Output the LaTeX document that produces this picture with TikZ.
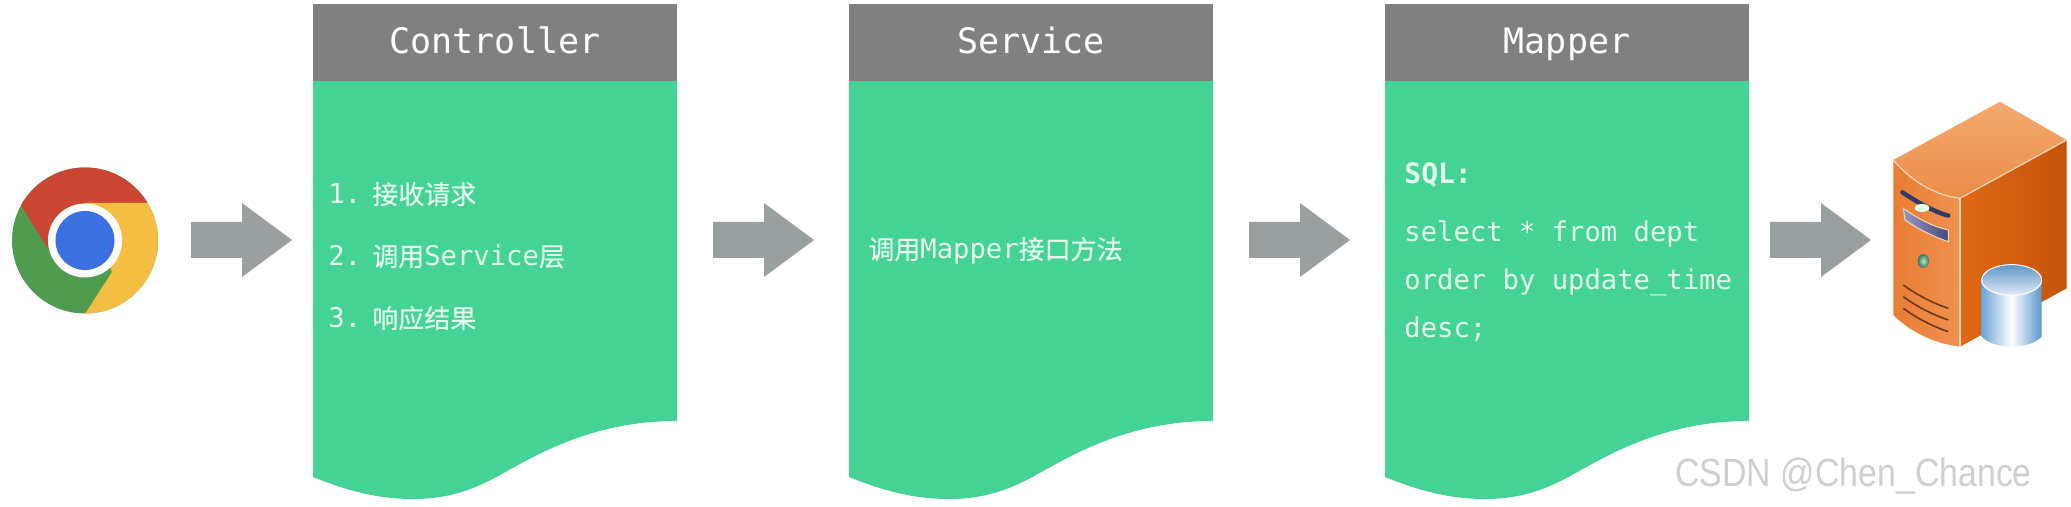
\documentclass[tikz,border=0pt]{standalone}
\usepackage{fontspec}
\setmainfont{DejaVu Sans Mono}
\newfontfamily\cjkf[FakeBold=0.4]{Noto Sans CJK SC}
\newfontfamily\wmf[FakeStretch=0.86]{Liberation Sans}
\definecolor{bodyg}{HTML}{44D395}
\definecolor{headg}{HTML}{808080}
\definecolor{arrowg}{HTML}{9AA09F}
\definecolor{bodytxt}{HTML}{E4FAEF}
\definecolor{chred}{HTML}{CB4632}
\definecolor{chgreen}{HTML}{4F9C50}
\definecolor{chyellow}{HTML}{F3BE42}
\definecolor{chblue}{HTML}{3B70DE}
\definecolor{srvrightA}{RGB}{224,104,22}
\definecolor{srvrightB}{RGB}{196,84,10}
\definecolor{srvtopA}{RGB}{243,170,112}
\definecolor{srvtopB}{RGB}{236,140,72}
\definecolor{srvfrontA}{RGB}{232,125,52}
\definecolor{srvfrontB}{RGB}{240,145,80}
\definecolor{srvedge}{RGB}{250,215,180}
\definecolor{srvslot}{RGB}{45,60,100}
\definecolor{bayA}{RGB}{150,150,190}
\definecolor{bayB}{RGB}{70,75,130}
\definecolor{ledA}{RGB}{190,225,200}
\definecolor{ledB}{RGB}{50,120,90}
\definecolor{vent}{RGB}{110,55,25}
\definecolor{cylA}{RGB}{110,165,215}
\definecolor{cylB}{RGB}{90,150,205}
\definecolor{cyltopA}{RGB}{95,150,200}
\definecolor{cyltopB}{RGB}{225,235,245}
\tikzset{
  x=0.5pt,y=-0.5pt,
  header/.style={fill=headg,draw=none},
  panelbody/.style={fill=bodyg,draw=none},
  blockarrow/.style={fill=arrowg,draw=none},
  title/.style={text=white,font=\fontsize{17.5}{20}\selectfont,anchor=base,inner sep=0},
  line/.style={text=bodytxt,font=\fontsize{13.6}{16}\selectfont,anchor=base west,inner sep=0},
}
\newcommand{\cj}[1]{{\cjkf\fontsize{13}{16}\selectfont #1}}
\newcommand{\num}[1]{#1.\hspace{5.6pt}}
\begin{document}
\begin{tikzpicture}
\useasboundingbox (0,0) rectangle (2071,507);
\fill[white] (0,0) rectangle (2071,507);
% panels
\foreach \px/\nm/\lbl in {313/ctrl/Controller,849/serv/Service,1385/mapp/Mapper}{
  \fill[panelbody] (\px,81) -- (\px+364,81) -- (\px+364,421)
     .. controls (\px+280,421) and (\px+225,454) .. (\px+187,475)
     .. controls (\px+160,490) and (\px+135,499) .. (\px+100,499)
     .. controls (\px+65,499) and (\px+35,491) .. (\px,477) -- cycle;
  \fill[header] (\px,4) rectangle (\px+364,81);
  \node[title] (\nm) at (\px+182,54) {\lbl};
}
% block arrows
\foreach \ax in {191,713,1249,1770}{
  \fill[blockarrow] (\ax,222) -- (\ax+51,222) -- (\ax+51,203) -- (\ax+101,240)
     -- (\ax+51,277) -- (\ax+51,258) -- (\ax,258) -- cycle;
}
% controller text
\node[line] (c1) at (328,204) {\num{1}\cj{接收请求}};
\node[line] (c2) at (328,266) {\num{2}\cj{调用}Service\cj{层}};
\node[line] (c3) at (328,328) {\num{3}\cj{响应结果}};
% service text
\node[line] (s1) at (868,259) {\cj{调用}Mapper\cj{接口方法}};
% mapper text
\node[line,font=\bfseries\fontsize{14}{16}\selectfont] (m0) at (1404,184) {SQL:};
\node[line] (m1) at (1404,242) {select * from dept};
\node[line] (m2) at (1404,290) {order by update\_time};
\node[line] (m3) at (1404,338) {desc;};
% chrome logo
\begin{scope}[shift={(85,240.5)}]
  \fill[chgreen] (0,0) circle[radius=73];
  \begin{scope}
    \clip (0,0) circle[radius=73];
    \fill[chred] (-64,-35.5) -- (-38,7) -- (0,-37.5) -- (80,-37.5) -- (40,-90) -- (-64,-90) -- cycle;
    \fill[chyellow] (0,-37.5) -- (100,-37.5) -- (100,90) -- (0,73.5) -- (27,31.5) -- cycle;
  \end{scope}
  \fill[white] (0,0) circle[radius=37];
  \fill[chblue] (0,0) circle[radius=29.5];
\end{scope}
% server
\begin{scope}[shift={(1760,80)},x=0.5pt/3,y=-0.5pt/3]
  \shade[left color=srvrightA,right color=srvrightB]
     (600,355) -- (920,180) -- (920,625) -- (600,800) -- cycle;
  \shade[top color=srvtopA,bottom color=srvtopB]
     (400,240) -- (720,65) -- (920,180) -- (600,355) .. controls (520,345) and (450,300) .. (400,240) -- cycle;
  \shade[left color=srvfrontA,right color=srvfrontB]
     (400,240) .. controls (450,300) and (520,345) .. (600,355) -- (600,800) .. controls (520,790) and (450,755) .. (400,705) -- cycle;
  \draw[srvedge,line width=0.6pt] (400,240) .. controls (450,300) and (520,345) .. (600,355) -- (920,180);
  \draw[srvedge,line width=0.6pt] (600,355) -- (600,800);
  % top slot
  \draw[srvslot,line width=2.2pt,line cap=round] (427,337) .. controls (470,365) and (520,395) .. (565,407);
  \fill[white!90!green] (486,384) ellipse[x radius=22,y radius=12];
  % drive bay
  \shade[left color=bayA,right color=bayB]
     (430,385) .. controls (480,420) and (520,440) .. (565,450) -- (565,485) .. controls (520,470) and (470,445) .. (435,420) -- cycle;
  \draw[srvedge,line width=0.5pt]
     (430,385) .. controls (480,420) and (520,440) .. (565,450) -- (565,485) .. controls (520,470) and (470,445) .. (435,420) -- cycle;
  % led
  \shade[inner color=ledA,outer color=ledB] (490,543) ellipse[x radius=17,y radius=21];
  % vents
  \foreach \d in {0,35,70}{
    \draw[vent,line width=0.8pt] (430,\d+615) .. controls (470,\d+645) and (520,\d+670) .. (565,\d+685);
  }
  % cylinder
  \shade[left color=cylA,right color=cylB,middle color=white]
     (665,600) -- (665,770) .. controls (700,810) and (810,810) .. (845,770) -- (845,600) -- cycle;
  \shade[top color=cyltopA,bottom color=cyltopB]
     (755,600) ellipse[x radius=90,y radius=46];
  \draw[white,line width=0.5pt] (755,600) ellipse[x radius=90,y radius=46];
\end{scope}
% watermark
\node[anchor=base west,inner sep=0,text=black!19,font=\wmf\fontsize{19.7}{22}\selectfont] (wm) at (1675,486) {CSDN @Chen\_Chance};
\end{tikzpicture}
\end{document}
